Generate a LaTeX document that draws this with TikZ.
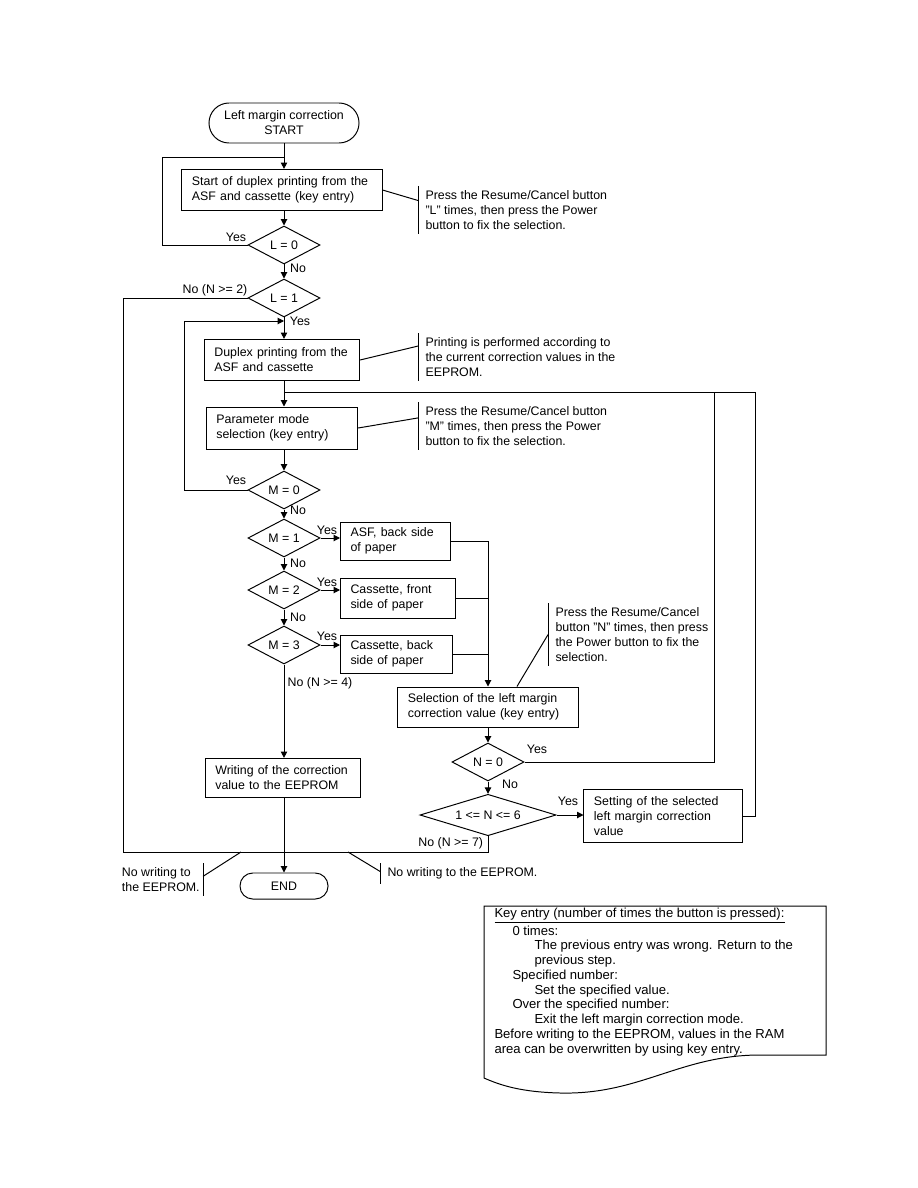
\documentclass[tikz,border=0pt]{standalone}
\usepackage{fontspec}
\setmainfont{Liberation Sans}
\usetikzlibrary{arrows.meta,calc,positioning,shapes.geometric}

\begin{document}
\begin{tikzpicture}[x=0.025cm,y=-0.025cm,>={Triangle[length=4.5pt,width=4.5pt]},line width=0.7pt,
  font=\fontsize{8.8}{10.6}\selectfont,
  box/.style={draw,align=left,inner xsep=0.25cm,inner ysep=0pt},
  term/.style={draw,align=center,inner sep=0pt},
  dec/.style={draw,diamond,aspect=2,inner sep=0pt,minimum width=1.8cm,minimum height=0.95cm},
  lbl/.style={inner sep=1pt},
  call/.style={anchor=north west,align=left,inner xsep=5pt,inner ysep=3pt}]
\useasboundingbox (0,0) rectangle (918,1188);
% main column
\node[term,minimum width=3.75cm,minimum height=1cm,rounded corners=0.5cm] (start) at (284,123) {Left margin correction\\START};
\node[box,text width=4.5cm,minimum height=1.03cm] (prep) at (282,190) {Start of duplex printing from the\\ASF and cassette (key entry)};
\node[dec] (l0) at (284,245) {L = 0};
\node[dec] (l1) at (284,298) {L = 1};
\node[box,text width=3.38cm,minimum height=1.03cm] (print) at (282,360) {Duplex printing from the\\ASF and cassette};
\node[box,text width=3.28cm,minimum height=1.05cm] (mode) at (282,428) {Parameter mode\\selection (key entry)};
\node[dec] (m0) at (284,490) {M = 0};
\node[dec] (m1) at (284,538) {M = 1};
\node[dec] (m2) at (284,590) {M = 2};
\node[dec] (m3) at (284,645) {M = 3};
\node[box,text width=3.38cm,minimum height=0.98cm] (write) at (283,778) {Writing of the correction\\value to the EEPROM};
\node[term,minimum width=2.2cm,minimum height=0.65cm,rounded corners=0.32cm] (end) at (284,886) {END};
% paper sides
\node[box,anchor=west,text width=2.25cm,minimum height=0.95cm] (asfback) at (340,541) {ASF, back side\\of paper};
\node[box,anchor=west,text width=2.38cm,minimum height=1cm] (casfront) at (340,598) {Cassette, front\\side of paper};
\node[box,anchor=west,text width=2.3cm,minimum height=0.95cm] (casback) at (340,654) {Cassette, back\\side of paper};
% value column
\node[box,text width=4cm,minimum height=1cm] (select) at (488,707) {Selection of the left margin\\correction value (key entry)};
\node[dec] (n0) at (488,762) {N = 0};
\node[dec,minimum width=3.4cm,minimum height=1cm] (nrange) at (488,815) {1 <= N <= 6};
\node[box,text width=3.45cm,minimum height=1.33cm] (setval) at (663,816) {Setting of the selected\\left margin correction\\value};
% labels
\node[lbl] (yl0) at (236,237) {Yes};
\node[lbl] (nl0) at (298,268) {No};
\node[lbl] (nl1) at (215,290) {No (N >= 2)};
\node[lbl] (yl1) at (300,321) {Yes};
\node[lbl] (ym0) at (236,480) {Yes};
\node[lbl] (nm0) at (298,510) {No};
\node[lbl] (ym1) at (327,530) {Yes};
\node[lbl] (nm1) at (298,563) {No};
\node[lbl] (ym2) at (327,582) {Yes};
\node[lbl] (nm2) at (298,617) {No};
\node[lbl] (ym3) at (327,636) {Yes};
\node[lbl] (nm3) at (320,683) {No (N >= 4)};
\node[lbl] (yn0) at (537,749) {Yes};
\node[lbl] (nn0) at (510,784) {No};
\node[lbl] (yn1) at (568,801) {Yes};
\node[lbl,anchor=east] (nn1) at (485,843) {No (N >= 7)};
% connectors
\coordinate (lp1) at (162,157);
\coordinate (lp2) at (184,321);
\coordinate (j3) at (284,392);
\coordinate (r1) at (714,392);
\coordinate (r2) at (755,392);
\coordinate (b1) at (123,852);
\draw[->] (start.south) -- (start.south |- prep.north);
\draw (l0.west) -| (lp1) -- (lp1 -| start.south);
\draw[->] (prep.south -| l0.north) -- (l0.north);
\draw[->] (l0.south) -- (l1.north);
\draw[->] (l1.south) -- (l1.south |- print.north);
\draw[->] (m0.west) -| (lp2) -- (lp2 -| l1.south);
\draw[->] (print.south -| l1.south) -- (mode.north -| l1.south);
\draw[->] (mode.south -| m0.north) -- (m0.north);
\draw[->] (m0.south) -- (m1.north);
\draw[->] (m1.south) -- (m2.north);
\draw[->] (m2.south) -- (m3.north);
\draw[->] (m3.south) -- (m3.south |- write.north);
\draw[->] (write.south -| end.north) -- (end.north);
\draw[->] (m1.east) -- (m1.east -| asfback.west);
\draw[->] (m2.east) -- (m2.east -| casfront.west);
\draw[->] (m3.east) -- (m3.east -| casback.west);
\draw[->] (asfback.east) -| (select.north);
\draw (casfront.east) -- (casfront.east -| select.north);
\draw (casback.east) -- (casback.east -| select.north);
\draw[->] (select.south -| n0.north) -- (n0.north);
\draw[->] (n0.south) -- (nrange.north);
\draw[->] (nrange.east) -- (nrange.east -| setval.west);
\draw (n0.east) -| (r1);
\draw (setval.east) -| (r2) -- (j3);
\draw (nrange.south) |- (b1) |- (l1.west);
% callouts
\node[call] (c1) at (418,186) {Press the Resume/Cancel button\\"L" times, then press the Power\\button to fix the selection.};
\node[call] (c2) at (418,333) {Printing is performed according to\\the current correction values in the\\EEPROM.};
\node[call] (c3) at (418,402) {Press the Resume/Cancel button\\"M" times, then press the Power\\button to fix the selection.};
\node[call] (c4) at (548,603) {Press the Resume/Cancel\\button "N" times, then press\\the Power button to fix the\\selection.};
\node[call,anchor=north east,inner xsep=2pt] (c5) at (203,863) {No writing to\\the EEPROM.};
\node[call] (c6) at (380,863) {No writing to the EEPROM.};
\coordinate (nw1) at (241,852);
\coordinate (nw2) at (348,852);
\foreach \c in {c1,c2,c3,c4,c6} \draw (\c.north west) -- (\c.south west);
\draw (c5.north east) -- (c5.south east);
\draw (prep.east) -- ($(c1.north west)!0.3!(c1.south west)$);
\draw (print.east) -- ($(c2.north west)!0.27!(c2.south west)$);
\draw (mode.east) -- ($(c3.north west)!0.33!(c3.south west)$);
\draw ($(select.north west)!0.66!(select.north east)$) -- ($(c4.north west)!0.5!(c4.south west)$);
\draw (nw1) -- ($(c5.north east)!0.4!(c5.south east)$);
\draw (nw2) -- ($(c6.north west)!0.4!(c6.south west)$);
% key entry note
\draw (484,906) -- (826,906) -- (826,1055) -- (760,1055)
  .. controls (680,1055) and (640,1095) .. (560,1093)
  .. controls (520,1092) and (500,1085) .. (484,1078) -- cycle;
\node[anchor=north west,align=left,inner sep=0pt,font=\fontsize{9.3}{10.5}\selectfont] (note) at (494,908)
  {\underline{Key entry (number of times the button is pressed):}\\[0.5pt]
   \hspace*{0.45cm}0 times:\\
   \hspace*{1cm}The previous entry was wrong. Return to the\\
   \hspace*{1cm}previous step.\\
   \hspace*{0.45cm}Specified number:\\
   \hspace*{1cm}Set the specified value.\\
   \hspace*{0.45cm}Over the specified number:\\
   \hspace*{1cm}Exit the left margin correction mode.\\
   Before writing to the EEPROM, values in the RAM\\
   area can be overwritten by using key entry.};
\end{tikzpicture}
\end{document}
